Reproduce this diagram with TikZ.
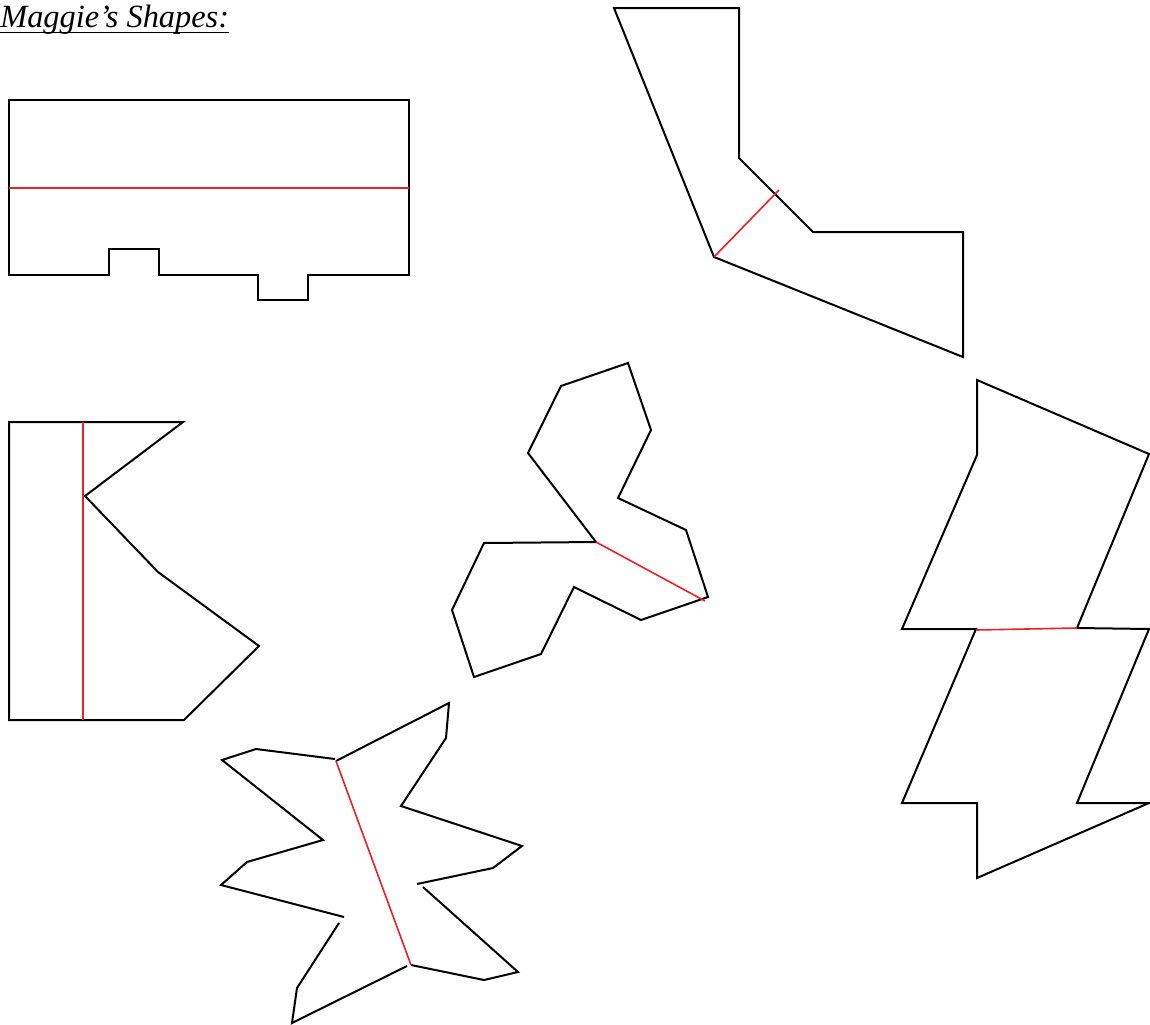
\documentclass[tikz,border=0pt]{standalone}
\usepackage{fontspec}
\setmainfont{Liberation Serif}
\definecolor{cutred}{RGB}{236, 32, 38}

\begin{document}
\begin{tikzpicture}[
        x=0.75pt, y=-0.75pt,
        outline/.style={draw=black, line width=1.5pt, line join=miter},
        cut/.style={draw=cutred, line width=1.2pt},
        heading/.style={anchor=base west, inner sep=0pt, font=\fontsize{24.3}{29}\selectfont\itshape}
    ]
        \useasboundingbox (0, 0) rectangle (1150, 1025);

        % title
        \node[heading] (title) at (0, 27) {Maggie’s Shapes:};
        \draw[line width=1.2pt] (title.base west) ++(0, 5.5) coordinate (ul) -- (ul -| title.east);

        % rectangle with notches
        \draw[outline] (9, 100) -- (409, 100) -- (409, 275) -- (308, 275) -- (308, 300) -- (258, 300)
            -- (258, 275) -- (159, 275) -- (159, 249) -- (109, 249) -- (109, 275) -- (9, 275) -- cycle;
        \draw[cut] (9, 188) -- (409, 188);

        % bent strip
        \draw[outline] (614, 8) -- (739, 8) -- (739, 158) -- (813, 232) -- (963, 232) -- (963, 357)
            -- (714, 257) -- cycle;
        \draw[cut] (714, 257) -- (779, 190);

        % K shape
        \draw[outline] (9, 422) -- (183, 422) -- (85, 496) -- (158, 572) -- (259, 646) -- (184, 720)
            -- (9, 720) -- cycle;
        \draw[cut] (83, 422) -- (83, 720);

        % three lobes
        \draw[outline] (628, 363) -- (651, 430) -- (618, 498) -- (686, 530) -- (708, 597) -- (641, 620)
            -- (574, 587) -- (541, 654) -- (474, 677) -- (452, 610) -- (484, 543) -- (596, 542)
            -- (528, 453) -- (561, 386) -- cycle;
        \draw[cut] (596, 542) -- (705, 601);

        % lightning
        \draw[outline] (977, 380) -- (1149, 454) -- (1077, 628) -- (1149, 629) -- (1077, 803)
            -- (1149, 803) -- (977, 878) -- (977, 803) -- (902, 803) -- (976, 629) -- (902, 629)
            -- (977, 455) -- cycle;
        \draw[cut] (976, 630) -- (1077, 628);

        % star
        \draw[outline] (344, 917) -- (221, 885) -- (247, 862) -- (323, 840) -- (222, 760)
            -- (256, 749) -- (335, 759);
        \draw[outline] (336, 761) -- (449, 703) -- (446, 738) -- (401, 806) -- (522, 846)
            -- (493, 868) -- (417, 884);
        \draw[outline] (423, 887) -- (518, 972) -- (484, 980) -- (411, 965);
        \draw[outline] (407, 966) -- (292, 1023) -- (297, 988) -- (339, 923);
        \draw[cut] (336, 761) -- (411, 965);
    \end{tikzpicture}
\end{document}
